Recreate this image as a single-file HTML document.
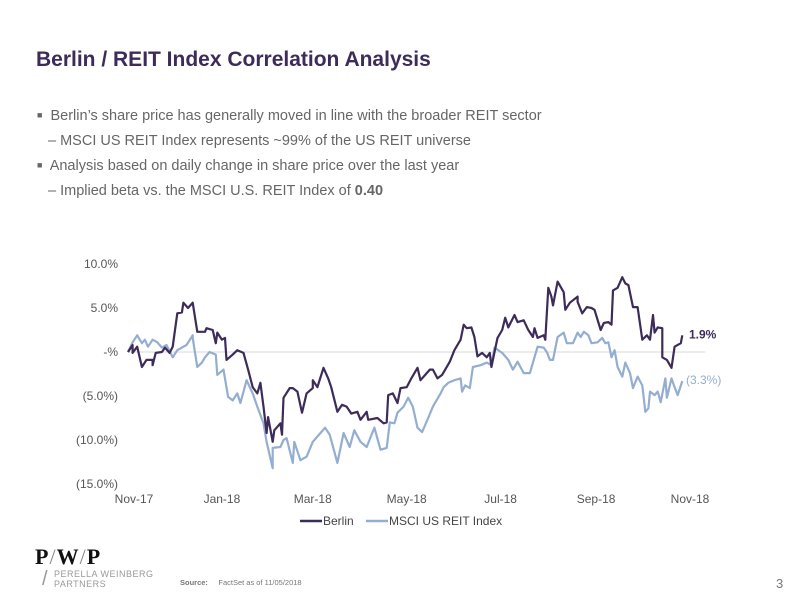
<!DOCTYPE html>
<html><head><meta charset="utf-8"><style>
body{margin:0;width:792px;height:612px;background:#fff;position:relative;overflow:hidden;font-family:"Liberation Sans",sans-serif}
.t{position:absolute;white-space:nowrap}
.b{font-size:14.5px;color:#666}
</style></head><body>
<div class="t" style="left:36px;top:48px;font-size:21px;font-weight:bold;color:#3d2b5a">Berlin / REIT Index Correlation Analysis</div>
<div class="t b" style="left:37px;top:108px"><span style="font-size:9px;vertical-align:2px">■</span>&nbsp; Berlin’s share price has generally moved in line with the broader REIT sector</div>
<div class="t b" style="left:48px;top:133px">– MSCI US REIT Index represents ~99% of the US REIT universe</div>
<div class="t b" style="left:37px;top:158px"><span style="font-size:9px;vertical-align:2px">■</span>&nbsp; Analysis based on daily change in share price over the last year</div>
<div class="t b" style="left:48px;top:183px">– Implied beta vs. the MSCI U.S. REIT Index of <b>0.40</b></div>

<svg id="chart" width="792" height="612" style="position:absolute;left:0;top:0" font-family="Liberation Sans, sans-serif"></svg>

<div class="t" style="left:35px;top:544px;font-family:'Liberation Serif',serif;font-size:22px;font-weight:bold;color:#111;letter-spacing:1px">P<span style="font-weight:normal;color:#888">/</span>W<span style="font-weight:normal;color:#888">/</span>P</div>
<div class="t" style="left:42px;top:568px;font-size:20px;color:#999">/</div>
<div class="t" style="left:54px;top:569px;font-size:9px;color:#999;line-height:10px;letter-spacing:.5px">PERELLA WEINBERG<br>PARTNERS</div>
<div class="t" style="left:180px;top:578px;font-size:7.5px;color:#777"><b>Source:</b>&nbsp;&nbsp;&nbsp;&nbsp; FactSet as of 11/05/2018</div>
<div class="t" style="left:776px;top:576px;font-size:13px;color:#777">3</div>

<script>
const yTicks=[10,5,0,-5,-10,-15];
const yTickLabels=["10.0%","5.0%","-%","(5.0%)","(10.0%)","(15.0%)"];
const xTickDays=[0,61,120,181,242,304,365];
const xTickLabels=["Nov-17","Jan-18","Mar-18","May-18","Jul-18","Sep-18","Nov-18"];
const berlinDays=[0,3,3,6,9,12,16,16,18,22,24,27,29,32,35,36,39,42,45,50,51,55,57,58,61,63,64,68,71,75,78,81,84,86,88,90,91,94,95,99,100,101,105,107,110,113,116,120,120,123,127,130,132,136,139,142,145,149,151,155,156,162,166,168,169,172,175,177,181,184,188,190,193,196,198,201,204,209,212,216,218,220,223,225,227,230,233,235,236,240,243,245,247,251,253,257,260,263,264,266,270,271,273,275,276,279,283,284,287,292,292,295,298,301,303,307,309,312,314,315,318,321,323,325,328,331,334,337,339,341,342,344,347,347,350,353,355,359,360];
const berlinValues=[0,0.8,-0.1,0.6,-1.7,-0.9,-0.9,-1.5,-0.1,0,0.5,-0.1,0.6,4.4,4.5,5.6,5.0,5.6,2.3,2.3,2.7,2.5,1.0,2.2,1.4,1.6,-0.9,-0.3,0.2,-0.1,-2.0,-4.0,-4.7,-3.5,-6.2,-9.2,-7.4,-10.2,-8.9,-8.1,-9.4,-5.2,-4.1,-4.1,-4.5,-6.9,-4.7,-4.1,-3.2,-4.0,-1.8,-3.0,-4.0,-6.8,-6.0,-6.2,-7.0,-6.8,-7.7,-6.8,-7.7,-7.5,-8.1,-8.0,-4.9,-4.7,-5.8,-4.1,-4.0,-3.0,-1.8,-3.2,-2.6,-2.0,-2.0,-3.0,-2.6,-1.1,0.2,1.4,3.1,2.7,2.8,1.7,-0.5,-0.1,-0.6,-0.1,-1.7,1.6,2.5,3.9,2.8,4.2,3.4,3.6,2.5,1.7,2.7,1.6,1.9,1.4,7.3,6.3,5.3,8.0,6.8,4.8,5.6,6.3,5.7,4.4,5.1,5.0,4.8,2.5,3.3,3.4,3.1,7.0,7.3,8.5,7.8,7.6,5.1,5.1,1.4,1.9,1.4,4.2,2.2,2.8,2.7,-0.6,-0.9,-1.8,0.6,1.0,1.9];
const reitDays=[0,3,6,9,11,13,16,19,22,25,29,32,35,38,42,42,45,48,50,53,57,58,62,65,68,71,73,77,81,84,88,90,94,94,99,101,103,107,108,112,116,120,125,128,131,136,140,144,147,151,155,160,164,168,170,173,175,179,182,185,188,191,195,198,203,205,208,212,216,217,219,222,224,229,233,236,238,243,247,250,253,257,261,264,266,270,272,274,276,279,283,285,289,292,294,296,299,301,305,308,310,312,314,316,318,321,323,326,328,331,334,336,338,339,342,344,346,349,350,353,355,357,360];
const reitValues=[0,1.1,1.9,1.0,1.4,0.6,1.4,1.1,0.5,0.8,-0.6,0.2,0.5,0.8,1.9,1.6,-1.7,-1.2,-0.6,0,-0.3,-2.6,-2.0,-5.1,-5.5,-4.7,-5.8,-3.2,-4.7,-6.2,-8.1,-10.2,-13.2,-10.9,-10.8,-10.0,-9.8,-12.6,-10.2,-12.3,-11.9,-10.2,-9.2,-8.6,-9.4,-12.6,-9.2,-10.8,-8.9,-10.2,-10.8,-8.6,-11.1,-10.9,-8.0,-8.1,-6.9,-6.2,-5.2,-6.2,-8.6,-9.1,-7.5,-6.2,-4.7,-4.0,-3.5,-3.2,-3.0,-4.5,-3.8,-4.1,-1.7,-1.5,-1.2,-1.5,0.5,-0.1,-0.9,-2.0,-1.1,-2.4,-2.4,-0.6,0.6,0.5,0,-0.9,-0.9,1.7,2.2,1.0,1.0,2.2,1.7,2.3,1.9,1.0,1.1,1.6,1.0,1.1,-0.6,0.2,-1.7,-2.8,-1.2,-2.4,-4.1,-2.8,-3.8,-6.8,-6.4,-4.5,-4.9,-4.5,-5.7,-3.0,-5.2,-3.0,-4.0,-4.9,-3.3];
const berlinEnd="1.9%", reitEnd="(3.3%)";

const svg=document.getElementById('chart');
const NS='http://www.w3.org/2000/svg';
const X=d=>128+d*(562/365);
const Y=v=>352-v*8.8;
function el(tag,attrs,txt){const e=document.createElementNS(NS,tag);for(const k in attrs)e.setAttribute(k,attrs[k]);if(txt!==undefined)e.textContent=txt;svg.appendChild(e);return e;}
const zl=el('line',{x1:X(0),x2:X(375),y1:Y(0),y2:Y(0),stroke:'#d9d9d9','stroke-width':1});


yTicks.forEach((v,i)=>{const t=el('text',{x:118,y:Y(v)+4,'text-anchor':'end','font-size':12,fill:'#555'},yTickLabels[i]);

});
xTickDays.forEach((d,i)=>{const t=el('text',{x:X(d)+(i==0?6:0),y:503,'text-anchor':'middle','font-size':12,fill:'#555'},xTickLabels[i]);

});
function line(days,vals,color,name){const n=Math.min(days.length,vals.length);let d='';for(let i=0;i<n;i++)d+=(i?'L':'M')+X(days[i]).toFixed(1)+','+Y(vals[i]).toFixed(1);
const p=el('path',{d:d,fill:'none',stroke:color,'stroke-width':2.2,'stroke-linejoin':'round'});

}
line(reitDays,reitValues,'#93aed0','reit-index-line');
line(berlinDays,berlinValues,'#3d2b5a','berlin-line');
const bl=el('text',{x:689,y:Y(berlinValues[berlinValues.length-1])+3,'font-size':12,'font-weight':'bold',fill:'#3d2b5a'},berlinEnd);


const rl=el('text',{x:686,y:Y(reitValues[reitValues.length-1])+3,'font-size':12,fill:'#93aed0'},reitEnd);


const l1=el('line',{x1:300,x2:322,y1:521,y2:521,stroke:'#3d2b5a','stroke-width':2.5});


const t1=el('text',{x:323,y:525,'font-size':12,fill:'#444'},'Berlin');


const l2=el('line',{x1:366,x2:388,y1:521,y2:521,stroke:'#93aed0','stroke-width':2.5});


const t2=el('text',{x:389,y:525,'font-size':12,fill:'#444'},'MSCI US REIT Index');


</script>
</body></html>
